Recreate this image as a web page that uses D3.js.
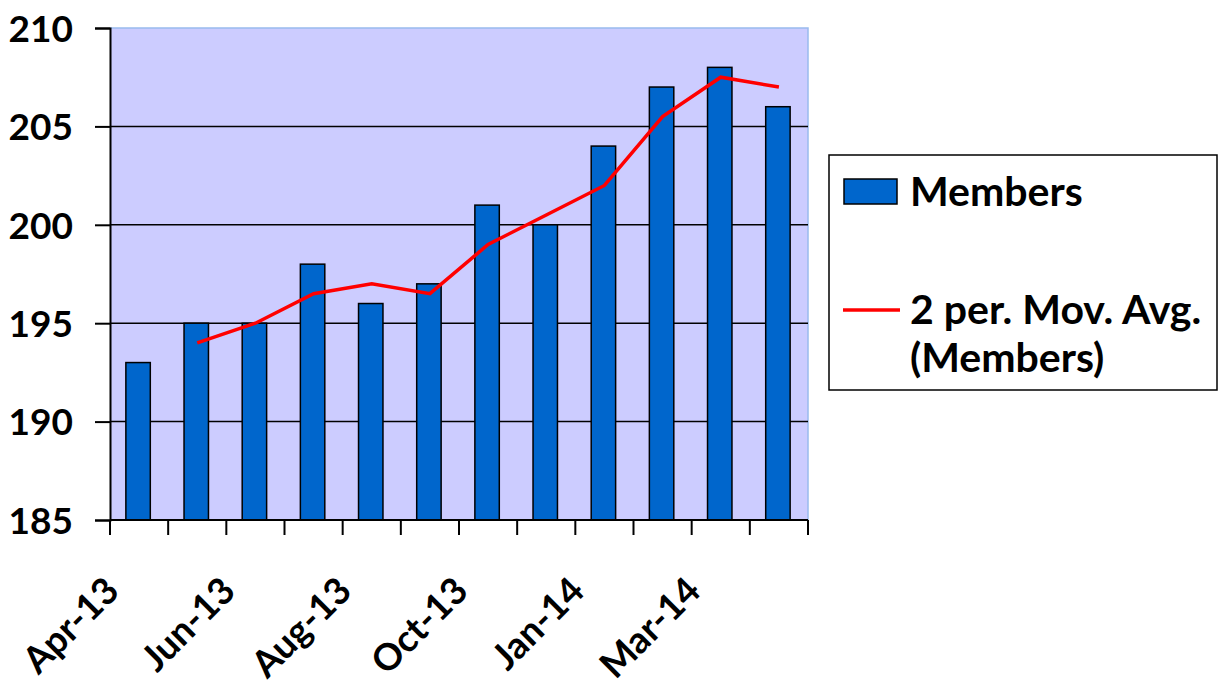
<!DOCTYPE html>
<html>
<head>
<meta charset="utf-8">
<script src="https://cdn.jsdelivr.net/npm/d3@7"></script>
<style>
  html, body { margin: 0; padding: 0; background: #fff; }
  svg text { font-family: Lato, "Open Sans", sans-serif; font-weight: bold; fill: #000; }
</style>
</head>
<body>
<svg id="chart" width="1222" height="686"></svg>
<script>
// Categories (12 periods; every other one is labelled on the axis)
const categories = ["Apr-13","May-13","Jun-13","Jul-13","Aug-13","Sep-13","Oct-13","Nov-13","Jan-14","Feb-14","Mar-14","Apr-14"];
const members = [193, 195, 195, 198, 196, 197, 201, 200, 204, 207, 208, 206];
// 2 period moving average (first period has no value)
const movAvg = [null, 194, 195, 196.5, 197, 196.5, 199, 200.5, 202, 205.5, 207.5, 207];
const yTicks = [185, 190, 195, 200, 205, 210];
const xTickLabels = ["Apr-13","Jun-13","Aug-13","Oct-13","Jan-14","Mar-14"];
const seriesNames = ["Members", "2 per. Mov. Avg.", "(Members)"];

const svg = d3.select("#chart");
const plot = { left: 110, right: 808, top: 28, bottom: 520 };

const x = d3.scaleBand().domain(categories).range([plot.left, plot.right]).paddingInner(0.58).paddingOuter(0.29);
const xc = d3.scaleBand().domain(categories).range([plot.left, plot.right]).padding(0);
const y = d3.scaleLinear().domain([185, 210]).range([plot.bottom, plot.top]);

// plot background
svg.append("rect")
  .attr("x", plot.left).attr("y", plot.top)
  .attr("width", plot.right - plot.left).attr("height", plot.bottom - plot.top)
  .attr("fill", "#CCCCFF");
// light-blue top/right border
svg.append("path")
  .attr("d", `M${plot.left},${plot.top}H${plot.right}V${plot.bottom}`)
  .attr("fill", "none").attr("stroke", "#99BBEE").attr("stroke-width", 1.5);

// gridlines
svg.append("g").selectAll("line").data(yTicks.filter(d => d > 185 && d < 210)).join("line")
  .attr("x1", plot.left).attr("x2", plot.right)
  .attr("y1", d => y(d)).attr("y2", d => y(d))
  .attr("stroke", "#000").attr("stroke-width", 1.5);

// bars
svg.append("g").selectAll("rect").data(members).join("rect")
  .attr("x", (d, i) => x(categories[i]) - 1)
  .attr("width", x.bandwidth())
  .attr("y", d => y(d))
  .attr("height", d => y(185) - y(d))
  .attr("fill", "#0066CC")
  .attr("stroke", "#000").attr("stroke-width", 1.5);

// moving average line
const line = d3.line()
  .defined(d => d.v != null)
  .x(d => xc(d.c) + xc.bandwidth() / 2)
  .y(d => y(d.v));
svg.append("path")
  .datum(movAvg.map((v, i) => ({ c: categories[i], v })))
  .attr("d", line)
  .attr("fill", "none").attr("stroke", "#FF0000").attr("stroke-width", 3.5);

// y axis
const yAxis = d3.axisLeft(y).tickValues(yTicks).tickSize(15).tickPadding(22).tickFormat(d3.format("d"));
const gy = svg.append("g").attr("transform", `translate(${plot.left},0)`).call(yAxis);
gy.select(".domain").attr("stroke", "#000").attr("stroke-width", 2);
gy.selectAll(".tick line").attr("stroke", "#000").attr("stroke-width", 2);
gy.selectAll(".tick text").style("font-size", "37px").attr("dy", "0.36em");

// x axis: ticks at category boundaries
const boundaries = d3.range(categories.length + 1).map(i => plot.left + i * xc.step());
const gx = svg.append("g");
gx.append("line").attr("x1", plot.left).attr("x2", plot.right)
  .attr("y1", plot.bottom).attr("y2", plot.bottom)
  .attr("stroke", "#000").attr("stroke-width", 2);
gx.selectAll("line.tk").data(boundaries).join("line").attr("class", "tk")
  .attr("x1", d => d).attr("x2", d => d)
  .attr("y1", plot.bottom).attr("y2", plot.bottom + 15)
  .attr("stroke", "#000").attr("stroke-width", 2);
gx.selectAll("text").data(xTickLabels).join("text")
  .attr("transform", d => `translate(${xc(d) + xc.bandwidth() / 2 - 18},${plot.bottom + 73}) rotate(-45)`)
  .attr("text-anchor", "end")
  .style("font-size", "37px")
  .text(d => d);

// legend
const lg = svg.append("g");
lg.append("rect").attr("x", 829).attr("y", 155).attr("width", 388).attr("height", 235)
  .attr("fill", "#fff").attr("stroke", "#000").attr("stroke-width", 1.5);
lg.append("rect").attr("x", 844).attr("y", 179).attr("width", 53).attr("height", 25)
  .attr("fill", "#0066CC").attr("stroke", "#000").attr("stroke-width", 1.5);
lg.append("line").attr("x1", 843).attr("x2", 900).attr("y1", 310).attr("y2", 310)
  .attr("stroke", "#FF0000").attr("stroke-width", 3.5);
lg.append("text").attr("x", 910).attr("y", 206).style("font-size", "41px").text(seriesNames[0]);
lg.append("text").attr("x", 910).attr("y", 324).style("font-size", "41px").text(seriesNames[1]);
lg.append("text").attr("x", 910).attr("y", 372).style("font-size", "41px").text(seriesNames[2]);
</script>
</body>
</html>
